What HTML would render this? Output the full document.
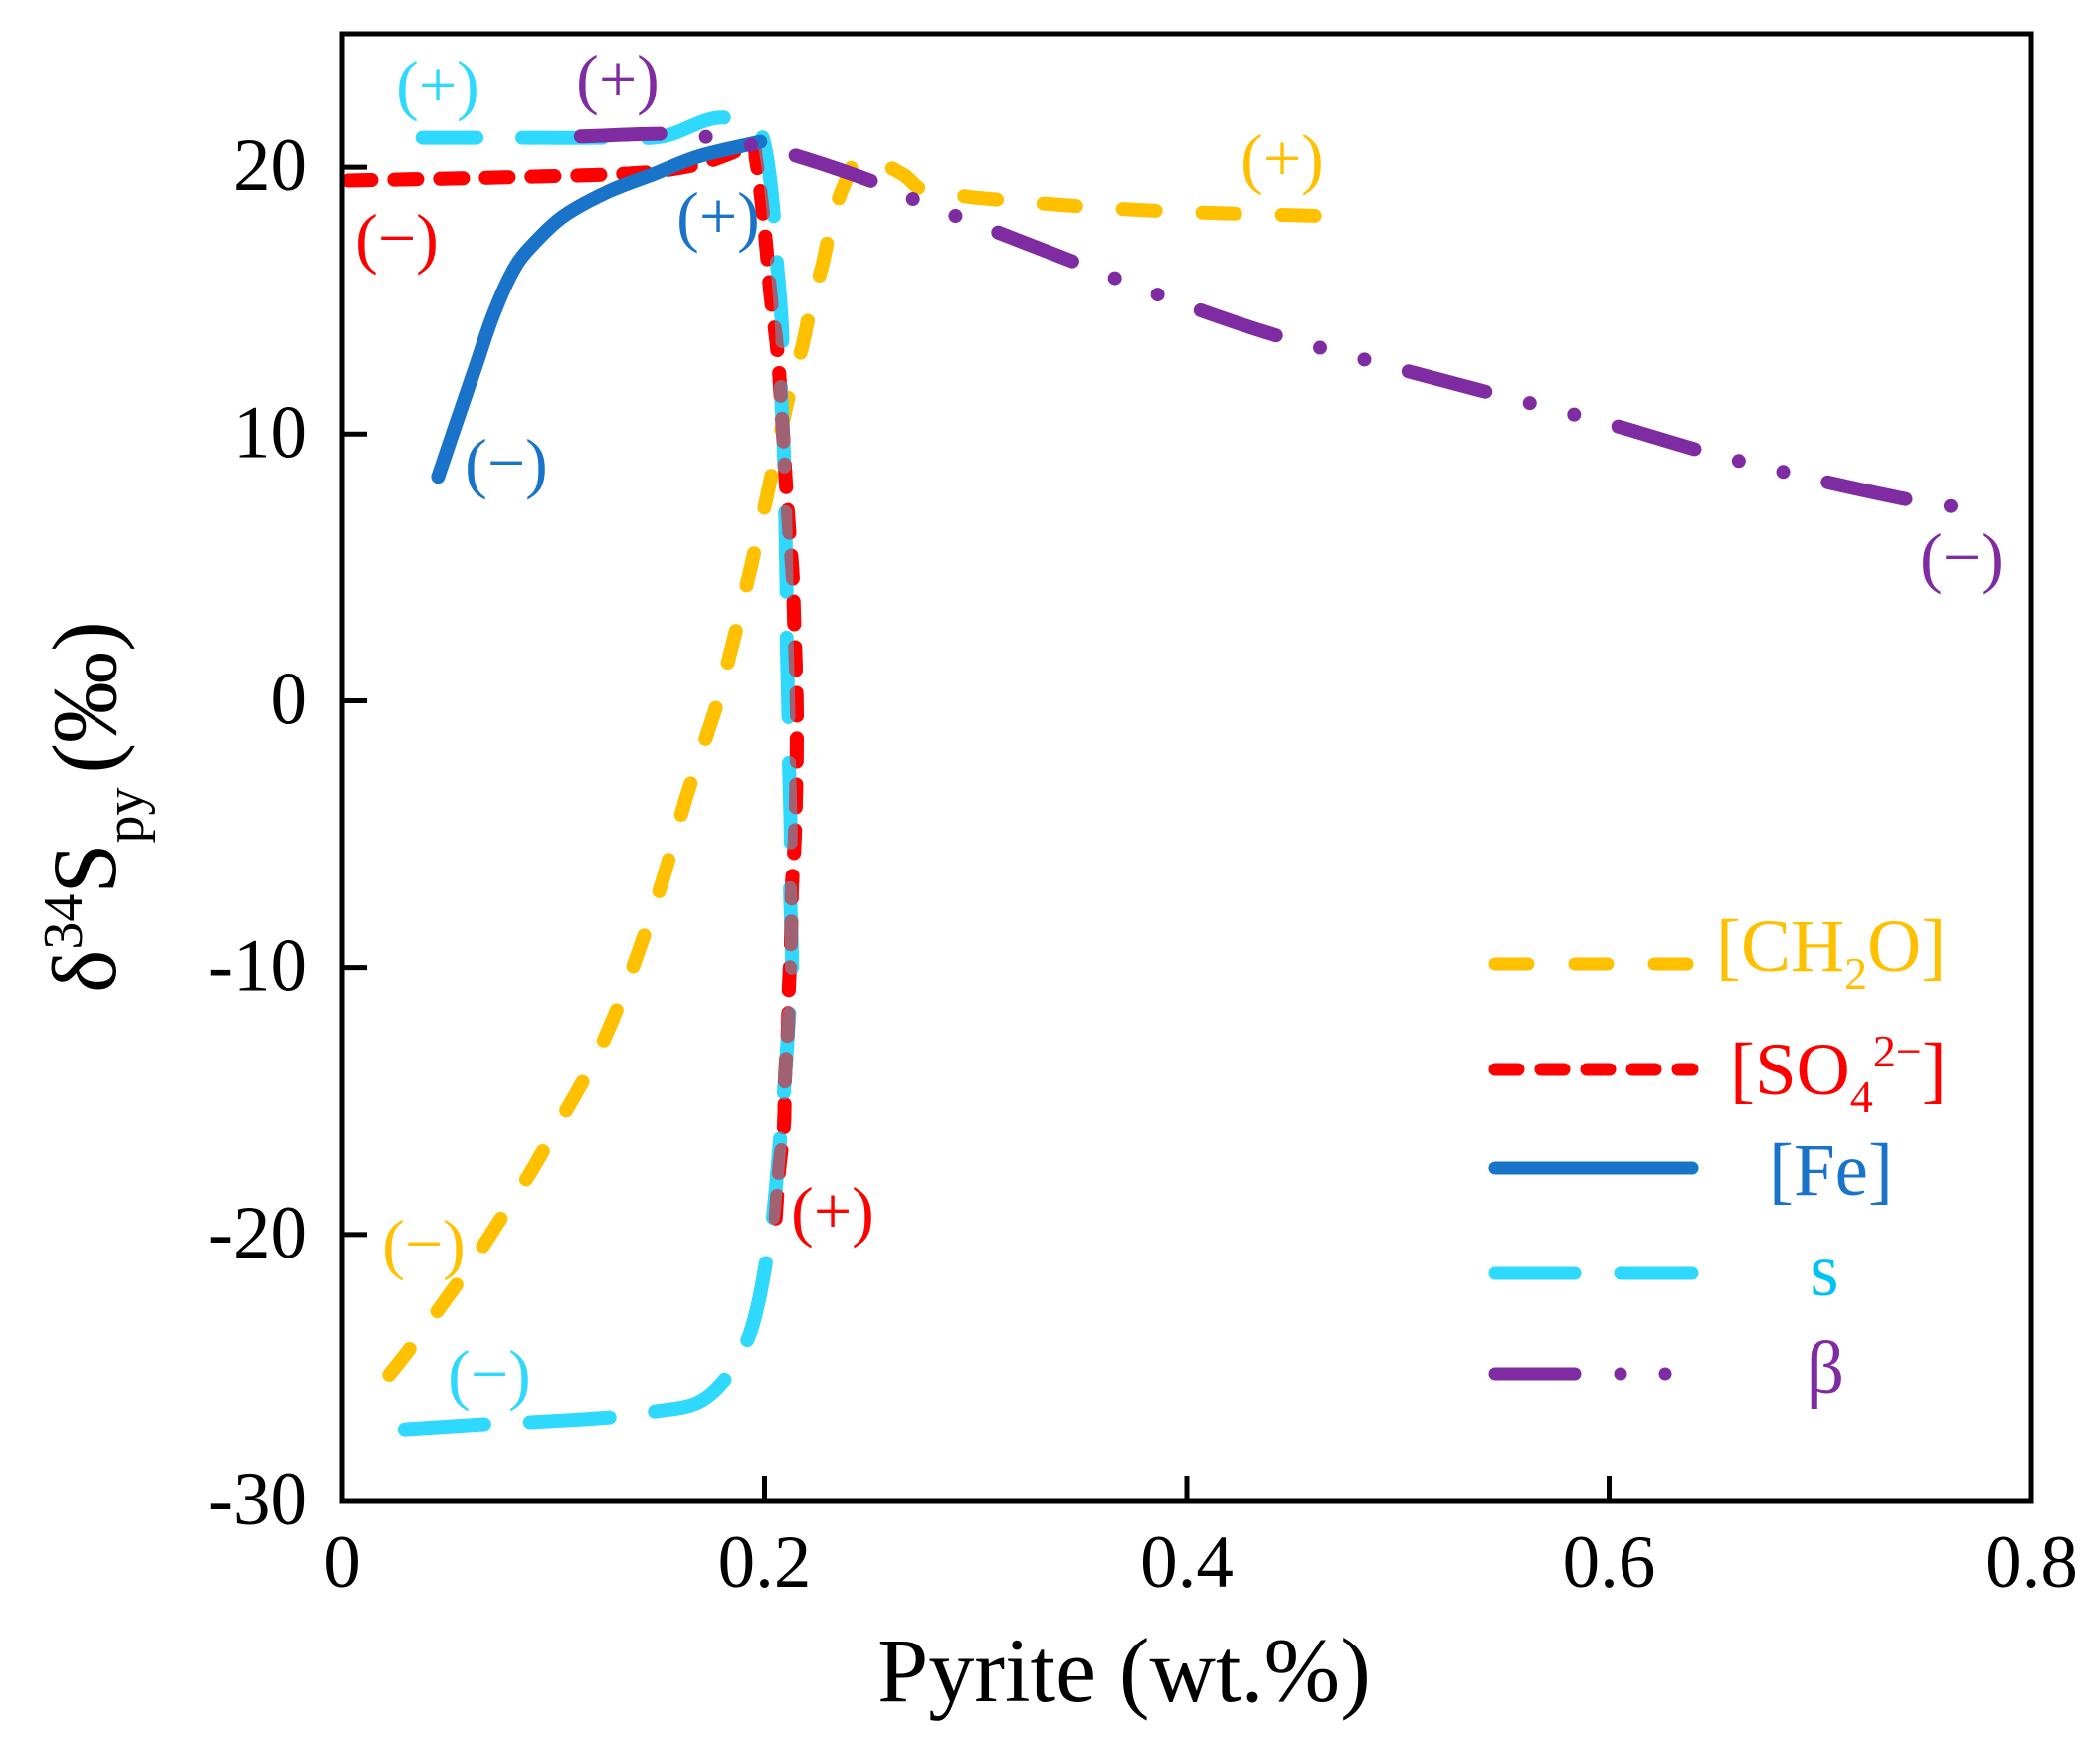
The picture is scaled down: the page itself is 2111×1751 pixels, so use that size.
<!DOCTYPE html>
<html lang="en">
<head>
<meta charset="utf-8">
<title>Pyrite vs δ34S sensitivity chart</title>
<style>
html,body{margin:0;padding:0;background:#fff;width:2111px;height:1751px;overflow:hidden}
svg{position:absolute;left:0;top:0;display:block}
text{font-family:"Liberation Serif","DejaVu Serif",serif}
</style>
</head>
<body>
<svg id="chart" xmlns="http://www.w3.org/2000/svg" width="2111" height="1751" viewBox="0 0 2111 1751">
  <g id="series"></g>
  <rect x="344" y="34" width="1702" height="1477" fill="none" stroke="#000" stroke-width="5" id="frame"/>
  <g id="ticks"></g>

  <text x="1130" y="1710" font-size="92" text-anchor="middle">Pyrite (wt.%)</text>
  <text transform="translate(116 998) rotate(-90)" font-size="92">δ<tspan font-size="56" dy="-34">34</tspan><tspan dy="34">S</tspan><tspan font-size="56" dy="28">py</tspan><tspan dy="-28" dx="14">(‰)</tspan></text>

  <g font-size="68" text-anchor="middle">
    <text x="440" y="108" fill="#2ed9fd">(+)</text>
    <text x="621" y="102" fill="#7f2ba1">(+)</text>
    <text x="399" y="262" fill="#ff0000">(−)</text>
    <text x="722" y="240" fill="#1873c9">(+)</text>
    <text x="509" y="488" fill="#1873c9">(−)</text>
    <text x="1289" y="182" fill="#ffc000">(+)</text>
    <text x="1972" y="583" fill="#7f2ba1">(−)</text>
    <text x="837" y="1240" fill="#ff0000">(+)</text>
    <text x="426" y="1273" fill="#ffc000">(−)</text>
    <text x="492" y="1404" fill="#2ed9fd">(−)</text>
  </g>

  <g stroke-width="13" stroke-linecap="round" fill="none">
    <line x1="1503" y1="969" x2="1701" y2="969" stroke="#ffc000" stroke-dasharray="33 47"/>
    <line x1="1503" y1="1075" x2="1701" y2="1075" stroke="#ff0000" stroke-dasharray="23 23"/>
    <line x1="1503" y1="1174" x2="1701" y2="1174" stroke="#1873c9"/>
    <line x1="1503" y1="1280" x2="1701" y2="1280" stroke="#2ed9fd" stroke-dasharray="80 46"/>
    <line x1="1503" y1="1381" x2="1701" y2="1381" stroke="#7f2ba1" stroke-dasharray="80 46 0 45 0 400"/>
  </g>
  <g font-size="75">
    <text x="1725" y="976" fill="#ffc000">[CH<tspan font-size="46" dy="18">2</tspan><tspan dy="-18">O]</tspan></text>
    <text x="1739" y="1100" fill="#ff0000">[SO<tspan font-size="46" dy="18">4</tspan><tspan font-size="46" dy="-46">2−</tspan><tspan dy="28">]</tspan></text>
    <text x="1778" y="1201" fill="#1873c9">[Fe]</text>
    <text x="1834" y="1302" text-anchor="middle" fill="#00c3f5">s</text>
    <text x="1835" y="1400" text-anchor="middle" fill="#7f2ba1">β</text>
  </g>
</svg>
<script>
// Axis tick data
const xTicks = [0, 0.2, 0.4, 0.6, 0.8];
const xTickLabels = ['0', '0.2', '0.4', '0.6', '0.8'];
const yTicks = [-30, -20, -10, 0, 10, 20];
const yTickLabels = ['-30', '-20', '-10', '0', '10', '20'];

// Series: Pyrite (wt.%) and delta-34S (permil)
const ch2oX = [0.0223, 0.0328, 0.0448, 0.0549, 0.0665, 0.076, 0.0869, 0.0959, 0.124, 0.149, 0.163, 0.178, 0.1833, 0.1875, 0.1922, 0.196, 0.2007, 0.204, 0.2126, 0.2179, 0.222, 0.2273, 0.2315, 0.2375, 0.2458, 0.2652, 0.2736, 0.281, 0.301, 0.377, 0.4725];
const ch2oY = [-25.26, -24.2, -22.9, -21.8, -20.46, -19.3, -17.97, -16.76, -12.7, -7.4, -3.6, 0, 1.64, 2.95, 4.55, 5.85, 7.5, 8.72, 11.8, 13.3, 14.8, 16.3, 17.8, 19.3, 20.3, 19.75, 19.2, 19.1, 18.85, 18.4, 18.15];

const so4X = [0.003, 0.092, 0.143, 0.168, 0.185, 0.1935, 0.196, 0.199, 0.201, 0.203, 0.206, 0.2086, 0.2101, 0.2117, 0.2133, 0.214, 0.2148, 0.2153, 0.2152, 0.2148, 0.214, 0.213, 0.2125, 0.2115, 0.211, 0.2097, 0.2092, 0.2069, 0.205];
const so4Y = [19.5, 19.65, 19.8, 20.1, 20.55, 20.9, 20.3, 18.45, 16.9, 15.1, 13.2, 10.2, 8.17, 6.37, 4.7, 3.0, 1.27, -0.48, -2.2, -3.9, -5.7, -6.9, -9.05, -10.8, -12.45, -14.1, -15.9, -17.6, -19.7];

const feX = [0.0454, 0.0528, 0.0633, 0.0717, 0.0822, 0.0927, 0.1054, 0.1264, 0.1474, 0.1685, 0.198];
const feY = [8.4, 10.13, 12.56, 14.5, 16.3, 17.3, 18.2, 19.1, 19.74, 20.4, 20.95];

const sX = [0.0297, 0.0696, 0.0885, 0.1285, 0.1474, 0.1685, 0.182, 0.192, 0.1968, 0.201, 0.204, 0.2077, 0.2092, 0.212, 0.213, 0.212, 0.2124, 0.2115, 0.2113, 0.2104, 0.2104, 0.2097, 0.2092, 0.2077, 0.2084, 0.2053, 0.2038, 0.2, 0.1955, 0.178, 0.1516, 0.12, 0.08, 0.038];
const sY = [-27.3, -27.1, -27.04, -26.84, -26.64, -26.3, -25.36, -23.94, -22.66, -20.9, -19.35, -16.1, -14.65, -11.4, -9.9, -6.7, -5.1, -2, -0.5, 2.6, 4.3, 7.35, 9.2, 12.1, 13.8, 17, 18.7, 20.85, 21.5, 21.85, 21.15, 21.1, 21.1, 21.1];

const betaX = [0.113, 0.152, 0.171, 0.192, 0.212, 0.25, 0.269, 0.288, 0.345, 0.364, 0.4025, 0.44, 0.479, 0.536, 0.599, 0.656, 0.738, 0.78];
const betaY = [21.15, 21.25, 21.15, 20.85, 20.5, 19.5, 18.85, 18.25, 16.5, 15.9, 14.75, 13.75, 12.9, 11.7, 10.4, 9.1, 7.6, 7.1];

const NS = 'http://www.w3.org/2000/svg';
const plotLeft = 344, plotRight = 2042, plotTop = 34, plotBottom = 1509;
const xMin = 0, xMax = 0.8, yMin = -30, yMax = 25;

function xScale(v) { return plotLeft + (v - xMin) / (xMax - xMin) * (plotRight - plotLeft); }
function yScale(v) { return plotBottom - (v - yMin) / (yMax - yMin) * (plotBottom - plotTop); }

const frame = document.getElementById('frame');
frame.setAttribute('width', plotRight - plotLeft);
frame.setAttribute('height', plotBottom - plotTop);

// Smooth curve through the data points, with handles limited by segment length
function pathFrom(xs, ys) {
  const pts = xs.map(function (x, i) { return [xScale(x), yScale(ys[i])]; });
  function dirAt(i) {
    const a = pts[Math.max(i - 1, 0)];
    const b = pts[Math.min(i + 1, pts.length - 1)];
    const dx = b[0] - a[0], dy = b[1] - a[1];
    const len = Math.hypot(dx, dy) || 1;
    return [dx / len, dy / len];
  }
  let d = 'M' + pts[0][0].toFixed(1) + ' ' + pts[0][1].toFixed(1);
  for (let i = 0; i < pts.length - 1; i++) {
    const p = pts[i], q = pts[i + 1];
    const h = Math.hypot(q[0] - p[0], q[1] - p[1]) / 3;
    const u = dirAt(i), v = dirAt(i + 1);
    d += ' C' + (p[0] + u[0] * h).toFixed(1) + ' ' + (p[1] + u[1] * h).toFixed(1) + ' ' +
         (q[0] - v[0] * h).toFixed(1) + ' ' + (q[1] - v[1] * h).toFixed(1) + ' ' +
         q[0].toFixed(1) + ' ' + q[1].toFixed(1);
  }
  return d;
}

const seriesGroup = document.getElementById('series');
function drawLine(name, xs, ys, color, dash, opacity) {
  const el = document.createElementNS(NS, 'path');
  el.setAttribute('d', pathFrom(xs, ys));
  el.setAttribute('fill', 'none');
  el.setAttribute('stroke', color);
  el.setAttribute('stroke-width', '14');
  el.setAttribute('stroke-linecap', 'round');
  el.setAttribute('stroke-linejoin', 'round');
  if (dash) el.setAttribute('stroke-dasharray', dash);
  if (opacity) el.setAttribute('stroke-opacity', opacity);
  
  
  seriesGroup.appendChild(el);
}

drawLine('line-ch2o', ch2oX, ch2oY, '#ffc000', '33 47');
drawLine('line-so4', so4X, so4Y, '#ff0000', '23 23');
drawLine('line-s', sX, sY, '#2ed9fd', '80 46');
drawLine('line-so4-overlap', so4X, so4Y, '#ff0000', '23 23', '0.55');
drawLine('line-fe', feX, feY, '#1873c9', null);
drawLine('line-beta', betaX, betaY, '#7f2ba1', '80 46 0 46 0 46');

const tickGroup = document.getElementById('ticks');
const tickLength = 25;
xTicks.forEach(function (v, i) {
  const x = xScale(v);
  if (i > 0 && i < xTicks.length - 1) {
    const tick = document.createElementNS(NS, 'line');
    tick.setAttribute('x1', x);
    tick.setAttribute('x2', x);
    tick.setAttribute('y1', plotBottom);
    tick.setAttribute('y2', plotBottom - tickLength);
    tick.setAttribute('stroke', '#000');
    tick.setAttribute('stroke-width', '5');
    
    
    tickGroup.appendChild(tick);
  }
  const label = document.createElementNS(NS, 'text');
  label.setAttribute('x', x);
  label.setAttribute('y', 1595);
  label.setAttribute('font-size', '75');
  label.setAttribute('text-anchor', 'middle');
  label.textContent = xTickLabels[i];
  
  
  tickGroup.appendChild(label);
});
yTicks.forEach(function (v, i) {
  const y = yScale(v);
  if (i > 0) {
    const tick = document.createElementNS(NS, 'line');
    tick.setAttribute('x1', plotLeft);
    tick.setAttribute('x2', plotLeft + tickLength);
    tick.setAttribute('y1', y);
    tick.setAttribute('y2', y);
    tick.setAttribute('stroke', '#000');
    tick.setAttribute('stroke-width', '5');
    
    
    tickGroup.appendChild(tick);
  }
  const label = document.createElementNS(NS, 'text');
  label.setAttribute('x', 309);
  label.setAttribute('y', y + 23);
  label.setAttribute('font-size', '75');
  label.setAttribute('text-anchor', 'end');
  label.textContent = yTickLabels[i];
  
  
  tickGroup.appendChild(label);
});
</script>
</body>
</html>
